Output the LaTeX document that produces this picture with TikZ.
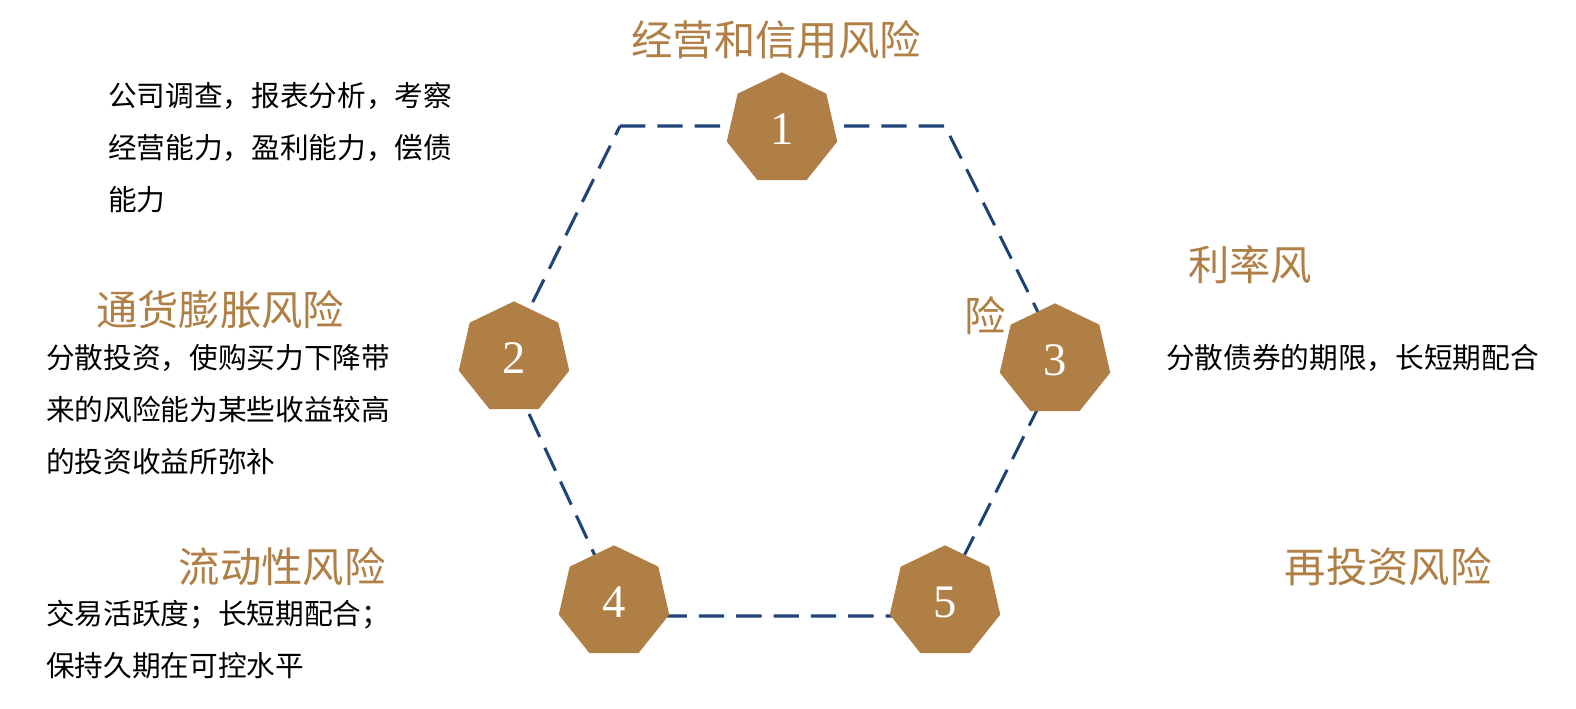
\documentclass[tikz,border=0pt]{standalone}
\usepackage{fontspec}
\setmainfont{Noto Sans CJK SC}
\newfontfamily\numfont{Liberation Serif}
\usetikzlibrary{shapes.geometric}
\definecolor{gold}{HTML}{B07F45}
\definecolor{navy}{HTML}{1F4478}
\begin{document}
\begin{tikzpicture}[x=0.75pt,y=-0.75pt,
  hept/.style={regular polygon,regular polygon sides=7,fill=gold,minimum size=85pt,inner sep=0pt,text=white,font=\fontsize{35}{35}\selectfont\numfont},
  title/.style={text=gold,font=\fontsize{31}{36}\selectfont,inner sep=0pt},
  body/.style={anchor=west,align=left,inner sep=0pt,font=\fontsize{21.5}{39}\selectfont}]
\useasboundingbox (0,0) rectangle (1576,708);
\coordinate (v1) at (620,126);
\coordinate (v2) at (945,126);
\coordinate (v3) at (1062,360);
\coordinate (v4) at (934,616);
\coordinate (v5) at (623,616);
\coordinate (v6) at (504,360);
\draw[navy,line width=2.3pt,dash pattern=on 19pt off 9pt] (v1)--(v2)--(v3)--(v4)--(v5)--(v6)--cycle;
\node[hept] (h1) at (782,129) {1};
\node[hept] (h2) at (514,358) {2};
\node[hept] (h3) at (1055,360) {3};
\node[hept] (h4) at (614,602) {4};
\node[hept] (h5) at (945,602) {5};
\node[title] (t1) at (776,40) {经营和信用风险};
\node[title] (t3a) at (1250,265) {利率风};
\node[title] (t3b) at (985,316) {险};
\node[title] (t2) at (220,310) {通货膨胀风险};
\node[title] (t4) at (282,567) {流动性风险};
\node[title] (t5) at (1388,567) {再投资风险};
\node[body] (b1) at (108,148) {公司调查，报表分析，考察\\经营能力，盈利能力，偿债\\能力};
\node[body] (b2) at (46,410) {分散投资，使购买力下降带\\来的风险能为某些收益较高\\的投资收益所弥补};
\node[body] (b3) at (1166,358) {分散债券的期限，长短期配合};
\node[body] (b4) at (46,640) {交易活跃度；长短期配合；\\保持久期在可控水平};
\end{tikzpicture}
\end{document}
